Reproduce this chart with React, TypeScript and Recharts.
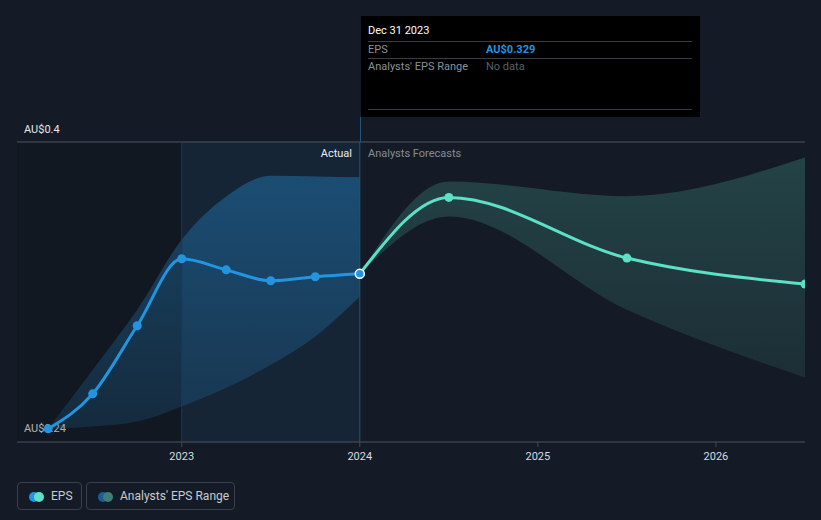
import React from 'react';
import { ComposedChart, Line, Area, XAxis, YAxis, CartesianGrid, ReferenceArea, ReferenceLine } from 'recharts';

// quarter ends as fractional years
const actualDates = [2022.25, 2022.5, 2022.75, 2023.0, 2023.25, 2023.5, 2023.75, 2024.0];
const actualEps = [0.2369, 0.2568, 0.2955, 0.3336, 0.3273, 0.3211, 0.3234, 0.3251];
const actualLow = [0.2369, 0.2382, 0.241, 0.2496, 0.2602, 0.2733, 0.2894, 0.3121];
const actualHigh = [0.2369, 0.2704, 0.3046, 0.3444, 0.369, 0.3808, 0.3804, 0.3799];

const forecastDates = [2024.0, 2024.5, 2025.5, 2026.5];
const forecastEps = [0.3251, 0.3685, 0.334, 0.3192];
const forecastLow = [0.3251, 0.3577, 0.3046, 0.2661];
const forecastHigh = [0.3251, 0.3776, 0.3692, 0.3912];

const yearTicks = [2023, 2024, 2025, 2026];
const yTicks = [0.24, 0.2933, 0.3467, 0.4];
const yTopLabel = 'AU$0.4';
const yBottomLabel = 'AU$0.24';

const allDates = Array.from(new Set([...actualDates, ...forecastDates])).sort((a, b) => a - b);
const data = allDates.map((d) => {
  const a = actualDates.indexOf(d);
  const f = forecastDates.indexOf(d);
  return {
    date: d,
    eps: a >= 0 ? actualEps[a] : undefined,
    epsRange: a >= 0 ? [actualLow[a], actualHigh[a]] : undefined,
    forecast: f >= 0 ? forecastEps[f] : undefined,
    forecastRange: f >= 0 ? [forecastLow[f], forecastHigh[f]] : undefined,
  };
});

const BLUE = '#2394df';
const TEAL = '#5ce0c6';
const BG = '#151b26';
const FONT = 'Roboto, "Noto Sans", sans-serif';

const EpsDot = (props: any) => {
  const { cx, cy, index } = props;
  if (cx == null || cy == null) return null;
  if (index === actualDates.length - 1) {
    return <circle key={index} cx={cx} cy={cy} r={4.5} fill={BLUE} stroke="#ffffff" strokeWidth={1.5} />;
  }
  return <circle key={index} cx={cx} cy={cy} r={4.5} fill={BLUE} />;
};

const App: React.FC = () => {
  return (
    <div style={{ position: 'fixed', left: 0, top: 0, width: 821, height: 520, background: BG, fontFamily: FONT }}>
      {/* y labels sit under the svg so the first dot covers them */}
      <div style={{ position: 'absolute', left: 24, top: 123, fontSize: 11, color: '#e6e8eb' }}>{yTopLabel}</div>
      <div style={{ position: 'absolute', left: 24, top: 422, fontSize: 11, color: '#e6e8eb' }}>{yBottomLabel}</div>

      <ComposedChart width={821} height={520} data={data} margin={{ top: 142, right: 16, bottom: 48, left: 17 }}>
        <defs>
          <linearGradient id="actualFill" x1="0" y1="0" x2="0" y2="1">
            <stop offset="0%" stopColor={BLUE} stopOpacity={0.6} />
            <stop offset="100%" stopColor={BLUE} stopOpacity={0.25} />
          </linearGradient>
          <linearGradient id="forecastFill" x1="0" y1="0" x2="0" y2="1">
            <stop offset="0%" stopColor={TEAL} stopOpacity={0.34} />
            <stop offset="100%" stopColor={TEAL} stopOpacity={0.16} />
          </linearGradient>
        </defs>
        <ReferenceArea x1={2022.075} x2={2023} y1={0.2294} y2={0.4} fill="#0c0f15" fillOpacity={0.25} stroke="none" />
        <ReferenceArea x1={2023} x2={2024} y1={0.2294} y2={0.4} fill={BLUE} fillOpacity={0.09} stroke="none" />
        <CartesianGrid vertical={false} stroke="#2a303a" />
        <XAxis
          dataKey="date"
          type="number"
          domain={[2022.075, 2026.5]}
          ticks={yearTicks}
          allowDataOverflow
          height={30}
          stroke="#434a55"
          tickSize={5}
          tickMargin={5}
          tick={{ fill: '#d8dbe0', fontSize: 11, fontFamily: FONT }}
        />
        <YAxis
          type="number"
          domain={[0.2294, 0.4]}
          ticks={yTicks}
          allowDataOverflow
          mirror
          width={60}
          axisLine={false}
          tickLine={false}
          tick={false}
        />
        <ReferenceLine y={0.4} stroke="#474d57" />
        <ReferenceLine x={2023} stroke="#1d3a52" />
        <Area type="monotone" dataKey="epsRange" stroke="none" fill="url(#actualFill)" isAnimationActive={false} />
        <Area type="monotone" dataKey="forecastRange" stroke="none" fill="url(#forecastFill)" isAnimationActive={false} />
        <ReferenceLine x={2024} stroke="#22557c" />
        <Line
          type="monotone"
          dataKey="forecast"
          stroke={TEAL}
          strokeWidth={3}
          dot={{ r: 4.5, fill: TEAL, stroke: 'none' }}
          isAnimationActive={false}
        />
        <Line
          type="monotone"
          dataKey="eps"
          stroke={BLUE}
          strokeWidth={3}
          dot={<EpsDot />}
          isAnimationActive={false}
        />
      </ComposedChart>

      <div style={{ position: 'absolute', left: 360, top: 117, width: 1, height: 25, background: '#22557c' }} />

      <div style={{ position: 'absolute', right: 821 - 352, top: 147, fontSize: 11, color: '#eceef0' }}>Actual</div>
      <div style={{ position: 'absolute', left: 368, top: 147, fontSize: 11, color: '#868c95' }}>Analysts Forecasts</div>

      <div style={{ position: 'absolute', left: 361, top: 16, width: 339, height: 101, background: '#000000', fontSize: 11 }}>
        <div style={{ position: 'absolute', left: 7, top: 8, color: '#ffffff' }}>Dec 31 2023</div>
        <div style={{ position: 'absolute', left: 7, right: 8, top: 25, height: 1, background: '#3a3d42' }} />
        <div style={{ position: 'absolute', left: 7, top: 27, color: '#8b9097' }}>EPS</div>
        <div style={{ position: 'absolute', left: 125, top: 27, color: BLUE, fontWeight: 700 }}>AU$0.329</div>
        <div style={{ position: 'absolute', left: 7, right: 8, top: 42, height: 1, background: '#3a3d42' }} />
        <div style={{ position: 'absolute', left: 7, top: 44, color: '#8b9097' }}>Analysts' EPS Range</div>
        <div style={{ position: 'absolute', left: 125, top: 44, color: '#5b6067' }}>No data</div>
        <div style={{ position: 'absolute', left: 7, right: 8, top: 93, height: 1, background: '#3a3d42' }} />
      </div>

      <div style={{ position: 'absolute', left: 17, top: 482, width: 63, height: 26, border: '1px solid #3a404c', borderRadius: 4, fontSize: 12, color: '#c9ccd1' }}>
        <span style={{ position: 'absolute', left: 11, top: 9, width: 10, height: 10, borderRadius: 5, background: BLUE }} />
        <span style={{ position: 'absolute', left: 16, top: 9, width: 10, height: 10, borderRadius: 5, background: TEAL }} />
        <span style={{ position: 'absolute', left: 33, top: 6 }}>EPS</span>
      </div>
      <div style={{ position: 'absolute', left: 86, top: 482, width: 147, height: 26, border: '1px solid #3a404c', borderRadius: 4, fontSize: 12, color: '#c9ccd1' }}>
        <span style={{ position: 'absolute', left: 11, top: 9, width: 10, height: 10, borderRadius: 5, background: '#1f5f8f' }} />
        <span style={{ position: 'absolute', left: 16, top: 9, width: 10, height: 10, borderRadius: 5, background: '#3c7f78' }} />
        <span style={{ position: 'absolute', left: 33, top: 6 }}>Analysts' EPS Range</span>
      </div>
    </div>
  );
};

export default App;
